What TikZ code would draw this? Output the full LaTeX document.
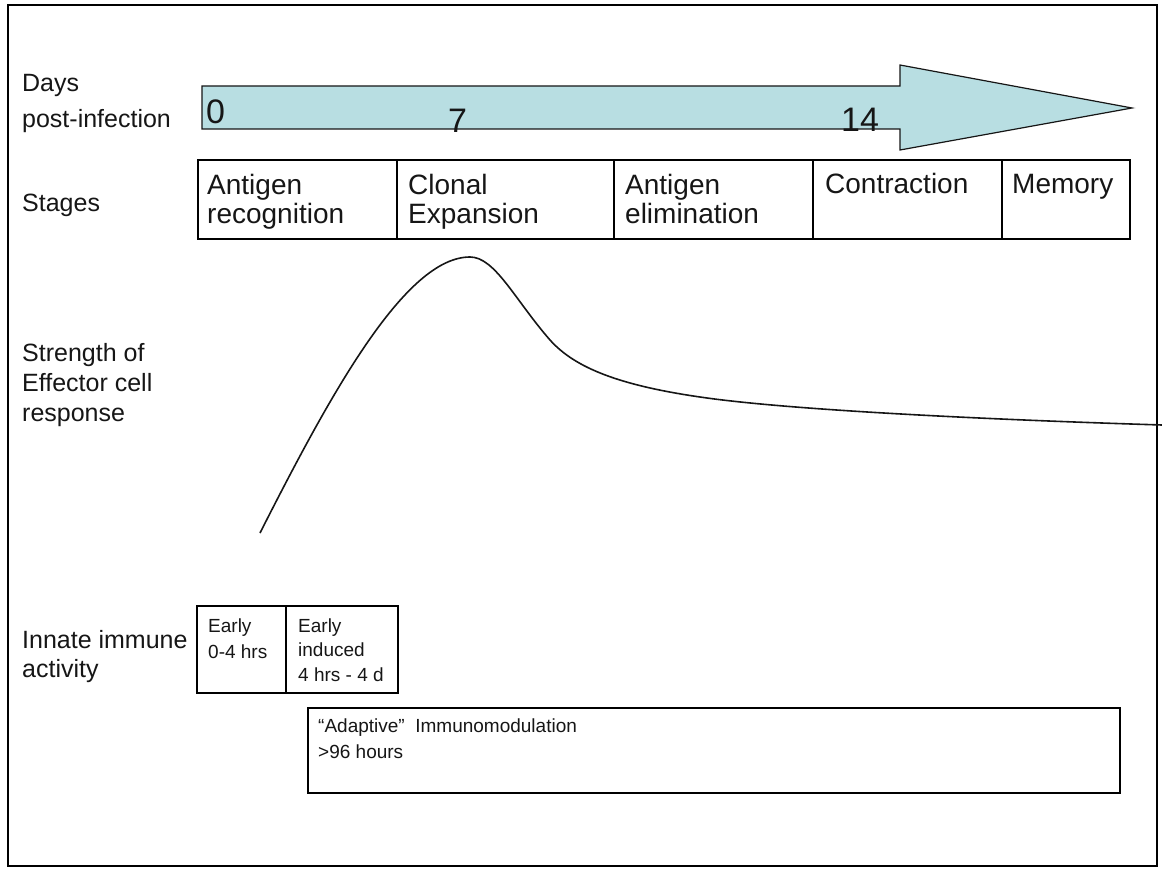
\documentclass[tikz,border=0pt]{standalone}
\usepackage{fontspec}
\setmainfont{Liberation Sans}
\definecolor{arrowfill}{RGB}{184,222,226}
\definecolor{ink}{RGB}{22,22,22}
\begin{document}
\begin{tikzpicture}[x=1pt,y=-1pt,
  lbl/.style={anchor=base west, inner sep=0pt, text=ink, font=\fontsize{25}{29}\selectfont},
  stg/.style={anchor=base west, inner sep=0pt, text=ink, font=\fontsize{28}{32}\selectfont},
  num/.style={anchor=base west, inner sep=0pt, text=ink, font=\fontsize{34}{38}\selectfont},
  sml/.style={anchor=base west, inner sep=0pt, text=ink, font=\fontsize{19}{22}\selectfont},
  adp/.style={anchor=base west, inner sep=0pt, text=ink, font=\fontsize{19}{22}\selectfont},
  boxline/.style={draw=black, line width=2.5pt},
  curveline/.style={draw=ink, line width=1.6pt}]
\useasboundingbox (0,0) rectangle (1162,869);
% outer frame
\draw[line width=2pt] (8,5) rectangle (1157,866);

% left labels
\node[lbl] (days1) at (22,92) {Days};
\node[lbl] (days2) at (22,128) {post-infection};
\node[lbl] (stages) at (22,212) {Stages};
\node[lbl] (str1) at (22,361) {Strength of};
\node[lbl] (str2) at (22,391) {Effector cell};
\node[lbl] (str3) at (22,421) {response};
\node[lbl] (inn1) at (22,648) {Innate immune};
\node[lbl] (inn2) at (22,677) {activity};

% time arrow
\draw[fill=arrowfill, draw=ink, line width=1.2pt]
  (202,86) -- (900,86) -- (900,65) -- (1132,108) -- (900,150) -- (900,129) -- (202,129) -- cycle;
\node[num] (d0) at (206,124) {0};
\node[num] (d7) at (448,133) {7};
\node[num] (d14) at (841,132) {14};

% stages
\draw[boxline] (198,160) rectangle (1130,239);
\foreach \xx in {397,614,813,1002} \draw[boxline] (\xx,160) -- (\xx,239);
\node[stg] (s1a) at (207,195) {Antigen};
\node[stg] (s1b) at (207,224) {recognition};
\node[stg] (s2a) at (408,195) {Clonal};
\node[stg] (s2b) at (408,224) {Expansion};
\node[stg] (s3a) at (625,195) {Antigen};
\node[stg] (s3b) at (625,224) {elimination};
\node[stg] (s4a) at (825,194) {Contraction};
\node[stg] (s5a) at (1012,194) {Memory};

% effector response curve
\draw[curveline] (260,533) .. controls (330,395) and (405,257) .. (470,257)
  .. controls (495,257) and (515,300) .. (550,340)
  .. controls (575,368) and (620,386) .. (707,398)
  .. controls (800,410.8) and (1000,420) .. (1162,425);

% innate box
\draw[boxline] (197,606) rectangle (398,693);
\draw[boxline] (286,606) -- (286,693);
\node[sml] (e1) at (208,632) {Early};
\node[sml] (e2) at (208,658) {0-4 hrs};
\node[sml] (e3) at (298,632) {Early};
\node[sml] (e4) at (298,656) {induced};
\node[sml] (e5) at (298,681) {4 hrs - 4 d};

% adaptive box
\draw[boxline] (308,708) rectangle (1120,793);
\node[adp] (a1) at (318,732) {“Adaptive”\ \ Immunomodulation};
\node[adp] (a2) at (318,758) {>96 hours};
\end{tikzpicture}
\end{document}
